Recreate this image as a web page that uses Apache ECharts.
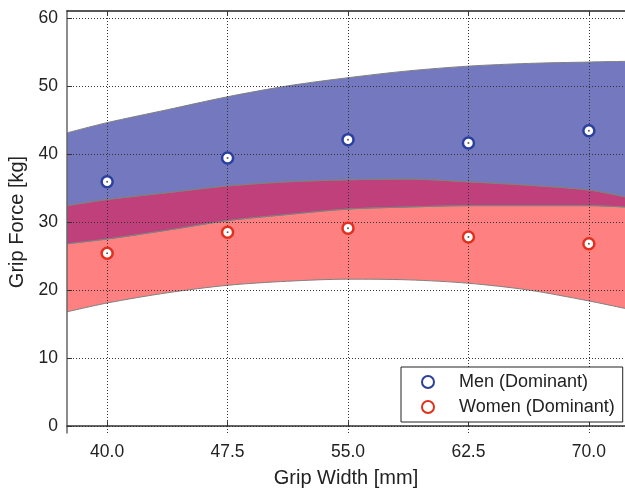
<!DOCTYPE html>
<html>
<head>
<meta charset="utf-8">
<script src="https://cdn.jsdelivr.net/npm/echarts@6/dist/echarts.min.js"></script>
<style>
  html, body { margin: 0; padding: 0; background: #fff; }
  #chart { width: 625px; height: 488px; }
</style>
</head>
<body>
<div id="chart"></div>
<script>
// band curves, sampled along the grip width axis
const bandX = [37.5, 40, 43.75, 47.5, 51.25, 55, 58.75, 62.5, 66.25, 70, 72.25];
const menUpper = [43.1, 44.6, 46.5, 48.4, 50.0, 51.2, 52.2, 52.9, 53.3, 53.5, 53.6];
const menLower = [26.8, 27.5, 28.8, 30.2, 31.1, 31.9, 32.2, 32.4, 32.4, 32.4, 32.2];
const womenUpper = [32.4, 33.3, 34.3, 35.3, 35.9, 36.2, 36.3, 35.9, 35.4, 34.7, 33.7];
const womenLower = [16.8, 18.1, 19.6, 20.7, 21.3, 21.6, 21.5, 21.0, 20.0, 18.4, 17.3];

// measured points
const sampleX = [40, 47.5, 55, 62.5, 70];
const menForce = [35.9, 39.4, 42.1, 41.6, 43.4];
const womenForce = [25.4, 28.5, 29.1, 27.8, 26.8];

const xTicks = [40, 47.5, 55, 62.5, 70];
const yTicks = [0, 10, 20, 30, 40, 50, 60];

const FONT = "Liberation Sans, Arial, sans-serif";
const edge = { color: "#808080", width: 1 };

// two stacked lines make one filled band between lo and hi
// (value put first so the stack runs on y, by index)
function band(id, lo, hi, color) {
  const common = {
    type: "line",
    stack: id,
    smooth: 0.3,
    showSymbol: false,
    silent: true,
    z: 2,
    lineStyle: edge,
    encode: { x: 1, y: 0 },
  };
  return [
    { ...common, data: bandX.map((x, i) => [lo[i], x]) },
    {
      ...common,
      areaStyle: { color: color, opacity: 1 },
      data: bandX.map((x, i) => [hi[i] - lo[i], x]),
    },
  ];
}

const gridDots = { color: "#333", width: 1, type: [1, 2] };

const chart = echarts.init(document.getElementById("chart"));
chart.setOption({
  animation: false,
  textStyle: { fontFamily: FONT },
  grid: { left: 67, top: 11, right: 0, bottom: 55, containLabel: false, outerBoundsMode: "none" },
  xAxis: [
    {
      type: "value",
      min: 37.5,
      max: 72.25,
      name: "Grip Width [mm]",
      nameLocation: "middle",
      nameGap: 35,
      nameTextStyle: { fontSize: 20, color: "#222", fontFamily: FONT },
      axisLine: { show: true, lineStyle: { color: "#333", width: 1.5 } },
      axisTick: { show: true, inside: true, length: 5, customValues: xTicks, lineStyle: { color: "#333" } },
      axisLabel: {
        customValues: xTicks,
        formatter: (v) => v.toFixed(1),
        fontSize: 17.5,
        color: "#222",
        margin: 10,
        fontFamily: FONT,
      },
      splitLine: { show: false },
      z: 6,
    },
    {
      type: "value",
      position: "top",
      min: 37.5,
      max: 72.25,
      axisLine: { show: true, lineStyle: { color: "#222", width: 1.5 } },
      axisTick: { show: true, inside: true, length: 5, customValues: xTicks, lineStyle: { color: "#333" } },
      axisLabel: { show: false },
      splitLine: { show: false },
      z: 6,
    },
  ],
  yAxis: {
    type: "value",
    min: -1,
    max: 61,
    name: "Grip Force [kg]",
    nameLocation: "middle",
    nameGap: 40,
    nameTextStyle: { fontSize: 20, color: "#222", fontFamily: FONT },
    axisLine: { show: true, lineStyle: { color: "#666", width: 1.5 } },
    axisTick: { show: true, inside: true, length: 5, customValues: yTicks, lineStyle: { color: "#333" } },
    axisLabel: { customValues: yTicks, fontSize: 17.5, color: "#222", margin: 9, fontFamily: FONT },
    splitLine: { show: false },
    z: 6,
  },
  legend: {
    data: ["Men (Dominant)", "Women (Dominant)"],
    orient: "vertical",
    left: 401,
    top: 367,
    padding: [6, 8, 6, 20],
    itemGap: 7,
    itemWidth: 12,
    itemHeight: 12,
    borderColor: "#222",
    borderWidth: 1,
    borderRadius: 0,
    backgroundColor: "#fff",
    formatter: (name) => "{t|" + name + "}",
    textStyle: {
      fontSize: 18,
      color: "#222",
      fontFamily: FONT,
      rich: { t: { fontSize: 18, color: "#222", fontFamily: FONT, padding: [0, 0, 0, 20] } },
    },
    z: 20,
  },
  series: [
    ...band("men", menLower, menUpper, "#7378bf"),
    ...band("women", womenLower, womenUpper, "#ff8080"),
    ...band("overlap", menLower, womenUpper, "#c0407c"),
    {
      // dotted grid drawn above the bands
      type: "line",
      data: [],
      silent: true,
      markLine: {
        silent: true,
        symbol: "none",
        animation: false,
        label: { show: false },
        lineStyle: gridDots,
        data: [
          ...xTicks.map((v) => ({ xAxis: v })),
          ...yTicks.map((v) => ({ yAxis: v })),
        ],
        z: 5,
      },
    },
    {
      name: "Men (Dominant)",
      type: "scatter",
      symbol: "circle",
      symbolSize: 11,
      z: 10,
      itemStyle: { color: "#fff", borderColor: "#2b3f9e", borderWidth: 2.5, opacity: 1 },
      data: sampleX.map((x, i) => [x, menForce[i]]),
    },
    {
      name: "Women (Dominant)",
      type: "scatter",
      symbol: "circle",
      symbolSize: 11,
      z: 10,
      itemStyle: { color: "#fff", borderColor: "#e0301e", borderWidth: 2.5, opacity: 1 },
      data: sampleX.map((x, i) => [x, womenForce[i]]),
    },
    {
      type: "scatter",
      symbolSize: 2,
      silent: true,
      z: 11,
      itemStyle: { color: "#333" },
      data: sampleX.map((x, i) => [x, menForce[i]]).concat(sampleX.map((x, i) => [x, womenForce[i]])),
    },
  ],
});
</script>
</body>
</html>
